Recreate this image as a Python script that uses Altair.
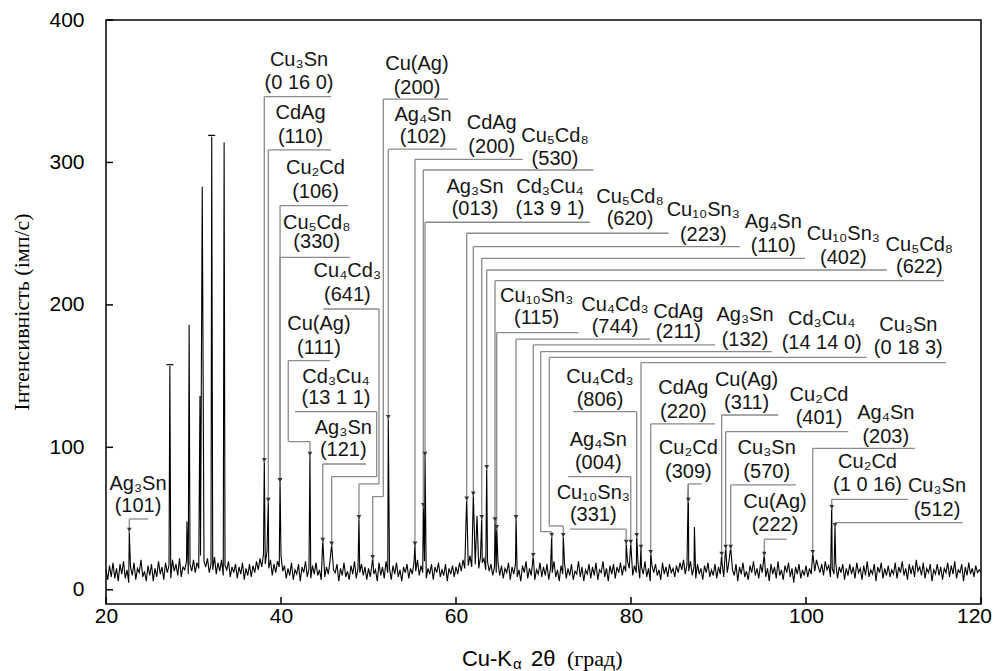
import altair as alt
import pandas as pd

# ---------------- data ----------------
theta_start = 20.0
theta_step = 0.2
baseline = [
    14, 7, 17, 9, 19, 8, 15, 6, 18, 11, 20, 8, 14, 5, 16, 10, 19, 7, 15, 12, 21, 9, 13, 6, 17,
    10, 18, 6, 15, 9, 20, 11, 16, 7, 19, 12, 17, 8, 21, 13, 18, 10, 22, 9, 16, 14, 20, 11, 18, 13,
    21, 12, 19, 15, 24, 13, 20, 16, 22, 12, 18, 14, 23, 11, 19, 13, 21, 10, 17, 14, 20, 9, 16, 12, 18,
    8, 16, 11, 19, 7, 15, 10, 18, 9, 17, 12, 20, 14, 22, 16, 25, 18, 27, 15, 21, 10, 18, 12, 20, 16,
    24, 13, 17, 8, 15, 10, 19, 7, 14, 11, 18, 6, 16, 12, 20, 9, 15, 8, 17, 11, 19, 10, 14, 7, 18,
    9, 16, 11, 20, 8, 14, 12, 18, 6, 15, 10, 19, 9, 13, 7, 17, 11, 20, 8, 15, 12, 18, 10, 16, 7,
    15, 9, 18, 11, 14, 6, 19, 10, 16, 8, 20, 12, 15, 7, 17, 11, 19, 9, 14, 6, 16, 12, 18, 8, 15,
    11, 19, 13, 21, 10, 17, 12, 20, 8, 15, 11, 18, 7, 16, 12, 19, 9, 14, 10, 18, 6, 15, 11, 17, 9,
    16, 11, 19, 13, 21, 15, 22, 17, 24, 16, 21, 18, 25, 15, 23, 19, 22, 14, 20, 13, 18, 10, 16, 12, 19,
    10, 17, 8, 15, 12, 19, 7, 16, 11, 18, 9, 14, 6, 17, 12, 20, 8, 15, 10, 18, 7, 14, 11, 19, 9,
    16, 10, 18, 7, 15, 12, 20, 9, 14, 6, 17, 11, 19, 8, 15, 10, 18, 7, 13, 11, 20, 9, 16, 6, 14,
    11, 18, 8, 16, 10, 19, 7, 14, 12, 20, 9, 15, 6, 17, 11, 18, 8, 16, 12, 19, 10, 17, 13, 20, 15,
    18, 10, 17, 12, 19, 8, 16, 11, 20, 9, 15, 6, 17, 12, 18, 10, 14, 7, 19, 11, 16, 9, 18, 12, 15,
    9, 17, 12, 19, 14, 21, 11, 18, 13, 20, 10, 16, 8, 18, 11, 15, 7, 17, 12, 19, 9, 14, 10, 18, 8,
    16, 11, 19, 9, 15, 12, 20, 8, 14, 10, 18, 6, 16, 11, 19, 9, 13, 7, 17, 12, 20, 10, 15, 8, 18,
    12, 17, 9, 15, 6, 18, 11, 16, 8, 20, 10, 14, 7, 17, 12, 19, 9, 15, 5, 16, 11, 18, 8, 14, 10,
    17, 9, 15, 11, 19, 13, 21, 16, 12, 18, 10, 20, 14, 17, 9, 15, 11, 19, 8, 16, 12, 18, 7, 15, 10,
    18, 11, 16, 8, 19, 12, 15, 7, 17, 10, 20, 9, 14, 11, 18, 6, 16, 12, 19, 8, 15, 10, 17, 9, 14,
    11, 19, 8, 16, 12, 20, 10, 15, 7, 18, 11, 17, 9, 21, 13, 16, 10, 19, 8, 15, 12, 18, 6, 14, 11,
    18, 10, 16, 7, 15, 12, 19, 9, 17, 11, 20, 8, 14, 12, 18, 6, 16, 10, 19, 11, 15, 9, 17, 12, 14,
    12,
]

peak_pos = [22.66, 27.30, 29.25, 29.50, 30.74, 31.00, 32.08, 33.50,
            38.09, 38.55, 39.89, 43.31, 44.77, 45.79, 48.91, 50.48,
            52.26, 55.31, 56.26, 56.46, 61.22, 61.98, 62.40, 62.94, 63.51,
            64.46, 64.65, 66.86, 68.83, 70.94, 72.26, 79.45, 79.97, 80.65,
            81.14, 82.25, 86.55, 87.25, 90.36, 90.82, 91.39, 95.23, 100.77,
            102.94, 103.31]
peak_int = [41, 157, 48, 186, 136, 283, 318, 314,
            92, 63, 77, 96, 35, 32, 51, 23,
            121, 32, 59, 95, 64, 67, 52, 51, 86,
            49, 44, 51, 24, 38, 38, 33, 33, 38,
            30, 26, 74, 44, 25, 30, 30, 25, 26,
            60, 45]

cap_pos = [27.30, 32.08]
cap_int = [158, 319]
cap_half = 0.4

# formula, hkl, text x, text y (line 1), text y (line 2),
# underline y, underline x0, x1, leader side, bend y, arrow x, arrow y
labels = [
    ("Ag₃Sn", "(101)", 23.66, 74.3, 58.8, 49.7, 22.66, 24.83, "L", None, 22.66, 40),
    ("Cu₃Sn", "(0 16 0)", 42.06, 372.0, 355.6, 346.2, 38.09, 45.71, "L", None, 38.09, 89),
    ("CdAg", "(110)", 42.23, 335.0, 318.1, 308.8, 38.55, 45.71, "L", None, 38.55, 61),
    ("Cu₂Cd", "(106)", 43.94, 295.9, 279.5, 269.7, 39.89, 47.69, "L", None, 39.89, 75),
    ("Cu₅Cd₈", "(330)", 44.08, 257.8, 243.9, 233.4, 39.89, 47.89, "L", None, 39.89, 75),
    ("Cu₄Cd₃", "(641)", 47.58, 224.0, 207.0, 197.1, 44.83, 51.20, "R", 74.3, 48.91, 49),
    ("Cu(Ag)", "(111)", 44.34, 186.6, 169.5, 160.8, 40.83, 45.60, "L", 104.0, 43.31, 93.4),
    ("Cd₃Cu₄", "(13 1 1)", 46.29, 149.6, 134.4, 125.0, 41.60, 50.94, "R", 79.4, 45.79, 30.3),
    ("Ag₃Sn", "(121)", 47.12, 113.8, 98.1, 88.3, 44.77, 49.71, "L", None, 44.77, 32.9),
    ("Cu(Ag)", "(200)", 55.54, 369.1, 352.6, 344.4, 51.69, 59.12, "L", 65.4, 50.48, 20.9),
    ("Ag₄Sn", "(102)", 56.23, 333.3, 317.7, 309.3, 52.26, 60.10, "L", None, 52.26, 119.2),
    ("CdAg", "(200)", 64.08, 327.5, 310.7, 302.2, 55.31, 67.62, "L", None, 55.31, 30.3),
    ("Cu₅Cd₈", "(530)", 71.31, 318.6, 302.2, 294.7, 56.26, 75.69, "L", None, 56.26, 57.4),
    ("Ag₃Sn", "(013)", 62.17, 283.0, 267.1, 258.0, 56.46, 75.31, "L", None, 56.46, 93.4),
    ("Cd₃Cu₄", "(13 9 1)", 70.74, 283.0, 267.1, None, None, None, None, None, None, None),
    ("Cu₅Cd₈", "(620)", 79.89, 276.0, 260.1, 250.3, 61.22, 84.29, "L", None, 61.22, 61.9),
    ("Cu₁₀Sn₃", "(223)", 88.26, 266.6, 249.1, 240.9, 61.98, 92.46, "L", None, 61.98, 65.4),
    ("Ag₄Sn", "(110)", 96.26, 258.4, 241.4, 232.7, 62.94, 99.89, "L", None, 62.94, 49.0),
    ("Cu₁₀Sn₃", "(402)", 104.27, 249.8, 232.7, 224.5, 63.51, 109.22, "L", None, 63.51, 84.1),
    ("Cu₅Cd₈", "(622)", 112.95, 242.0, 226.4, 217.0, 64.46, 115.77, "L", None, 64.46, 47.3),
    ("Cu₁₀Sn₃", "(115)", 69.22, 206.3, 190.6, 180.5, 64.65, 73.98, "L", None, 64.65, 42.0),
    ("Cu₄Cd₃", "(744)", 78.17, 200.0, 184.7, 175.9, 66.86, 82.17, "L", None, 66.86, 49.0),
    ("CdAg", "(211)", 85.40, 195.2, 181.2, 171.9, 68.83, 89.60, "L", None, 68.83, 22.3),
    ("Ag₃Sn", "(132)", 93.03, 192.9, 175.4, 167.2, 69.68, 96.08, "L", 40.8, 70.94, 36.4),
    ("Cd₃Cu₄", "(14 14 0)", 101.79, 189.9, 173.5, 163.2, 70.66, 106.93, "L", 44.8, 72.26, 36.4),
    ("Cu₃Sn", "(0 18 3)", 111.69, 185.9, 169.5, 159.4, 81.14, 116.00, "L", None, 81.14, 28.1),
    ("Cu₄Cd₃", "(806)", 76.46, 149.6, 133.2, 125.0, 73.41, 80.65, "R", None, 80.65, 36.4),
    ("Ag₄Sn", "(004)", 76.26, 105.2, 88.8, 79.4, 72.83, 79.97, "R", None, 79.97, 31.5),
    ("Cu₁₀Sn₃", "(331)", 75.69, 67.7, 52.5, 42.5, 73.03, 79.45, "R", None, 79.45, 31.5),
    ("CdAg", "(220)", 85.98, 141.5, 125.0, 116.4, 82.25, 89.60, "L", None, 82.25, 24.4),
    ("Cu₂Cd", "(309)", 86.55, 99.3, 82.9, 74.3, 86.55, 88.08, "L", None, 86.55, 61.0),
    ("Cu(Ag)", "(311)", 93.21, 147.3, 130.9, 122.7, 90.36, 96.83, "L", None, 90.36, 23.2),
    ("Cu₂Cd", "(401)", 101.49, 136.8, 120.4, 111.0, 90.82, 104.83, "L", None, 90.82, 28.1),
    ("Cu₃Sn", "(570)", 95.51, 99.3, 82.9, 73.6, 91.39, 98.86, "L", None, 91.39, 28.1),
    ("Cu(Ag)", "(222)", 96.46, 61.9, 45.5, 35.5, 95.23, 97.79, "L", None, 95.23, 23.2),
    ("Ag₄Sn", "(203)", 109.12, 123.9, 107.5, 99.3, 100.77, 112.46, "L", None, 100.77, 24.4),
    ("Cu₂Cd", "(1 0 16)", 107.03, 89.9, 73.6, 63.5, 102.94, 111.69, "L", None, 102.94, 56.0),
    ("Cu₃Sn", "(512)", 114.97, 73.1, 56.0, 47.1, 103.31, 117.91, "L", None, 103.31, 43.4),
]

x_ticks = [20, 40, 60, 80, 100, 120]
y_ticks = [0, 100, 200, 300, 400]

# ---------------- tables ----------------
pts = []
for i, v in enumerate(baseline):
    t = round(theta_start + theta_step * i, 3)
    if all(abs(t - p) > 0.04 for p in peak_pos):
        pts.append((t, v))
pts += list(zip(peak_pos, peak_int))
spec_df = pd.DataFrame(pts, columns=["tt", "I"]).sort_values("tt")

cap_df = pd.DataFrame({"x0": [p - cap_half for p in cap_pos],
                       "x1": [p + cap_half for p in cap_pos],
                       "y": cap_int})

segs, arrows, texts = [], [], []
for (f, h, tx, ty1, ty2, ly, lx0, lx1, side, bend, ax, ay) in labels:
    texts.append((tx, ty1, f))
    texts.append((tx, ty2, h))
    if ly is None:
        continue
    segs.append((lx0, ly, lx1, ly))
    xa = lx0 if side == "L" else lx1
    if bend is None:
        segs.append((xa, ly, xa, ay))
    else:
        segs.append((xa, ly, xa, bend))
        segs.append((xa, bend, ax, bend))
        segs.append((ax, bend, ax, ay))
    arrows.append((ax, ay))
seg_df = pd.DataFrame(segs, columns=["x", "y", "x2", "y2"])
arrow_df = pd.DataFrame(arrows, columns=["x", "y"])
text_df = pd.DataFrame(texts, columns=["x", "y", "t"])

# ---------------- chart ----------------
SANS = "Liberation Sans"
SERIF = "Liberation Serif"
xs = alt.Scale(domain=[20, 120], nice=False, zero=False)
ys = alt.Scale(domain=[-10, 400], nice=False, zero=False)
XA = alt.Axis(values=x_ticks, title=None, labelFont=SANS, labelFontSize=21,
              labelColor="black", tickSize=0, labelPadding=1, labelFlush=False,
              labelOffset=alt.ExprRef(expr="datum.value == 120 ? -7 : 0"),
              domain=False, grid=False)
YA = alt.Axis(values=y_ticks, title=None, labelFont=SANS, labelFontSize=21,
              labelColor="black", tickSize=0, labelPadding=22, domain=False, grid=False)


def X(f):
    return alt.X(f, scale=xs, axis=XA)


def Y(f):
    return alt.Y(f, scale=ys, axis=YA)


spectrum = alt.Chart(spec_df).mark_line(color="black", strokeWidth=1.1).encode(
    x=X("tt:Q"), y=Y("I:Q"), order="tt:Q",
)

caps = alt.Chart(cap_df).mark_rule(color="black", strokeWidth=1.2).encode(
    x=X("x0:Q"), x2="x1:Q", y=Y("y:Q"),
)

leaders = alt.Chart(seg_df).mark_rule(color="#8a8a8a", strokeWidth=1.3).encode(
    x=X("x:Q"), x2="x2:Q", y=Y("y:Q"), y2="y2:Q",
)

arrow_marks = alt.Chart(arrow_df).mark_point(shape="triangle-down", filled=True, size=22,
                                             color="#333333", opacity=1, yOffset=-3).encode(
    x=X("x:Q"), y=Y("y:Q"),
)

label_text = alt.Chart(text_df).mark_text(font=SANS, fontSize=20, color="#151515",
                                          align="center", baseline="middle").encode(
    x=X("x:Q"), y=Y("y:Q"), text="t:N",
)

xt_df = pd.DataFrame({"v": x_ticks})
yt_df = pd.DataFrame({"v": y_ticks})
xtick_marks = alt.Chart(xt_df).mark_rule(color="black", strokeWidth=1.5).encode(
    x=X("v:Q"), y=alt.value(584), y2=alt.value(577))
ytick_marks = alt.Chart(yt_df).mark_rule(color="black", strokeWidth=1.5).encode(
    y=Y("v:Q"), x=alt.value(0), x2=alt.value(7))

one = pd.DataFrame({"a": [0]})


def title_part(txt, px, py, font, size, align="left", angle=0):
    return alt.Chart(one).mark_text(text=txt, font=font, fontSize=size, color="black",
                                    align=align, baseline="middle", angle=angle).encode(
        x=alt.value(px), y=alt.value(py))


titles = [
    title_part("Cu-K", 406, 639, SANS, 22, align="right"),
    title_part("α", 407, 644, SANS, 15),
    title_part("2θ", 425, 639, SANS, 22),
    title_part("(град)", 461, 639, SERIF, 22),
    title_part("Інтенсивність (імп/с)", -84, 292, SERIF, 22, align="center", angle=270),
]

chart = alt.layer(spectrum, caps, leaders, arrow_marks, label_text,
                  xtick_marks, ytick_marks, *titles).properties(
    width=875, height=584, autosize="none",
    padding={"left": 98, "top": 12, "right": 14, "bottom": 72},
).configure_view(stroke="black", strokeWidth=1.5)

chart.save("out.html", embed_options={"renderer": "svg", "actions": False})
